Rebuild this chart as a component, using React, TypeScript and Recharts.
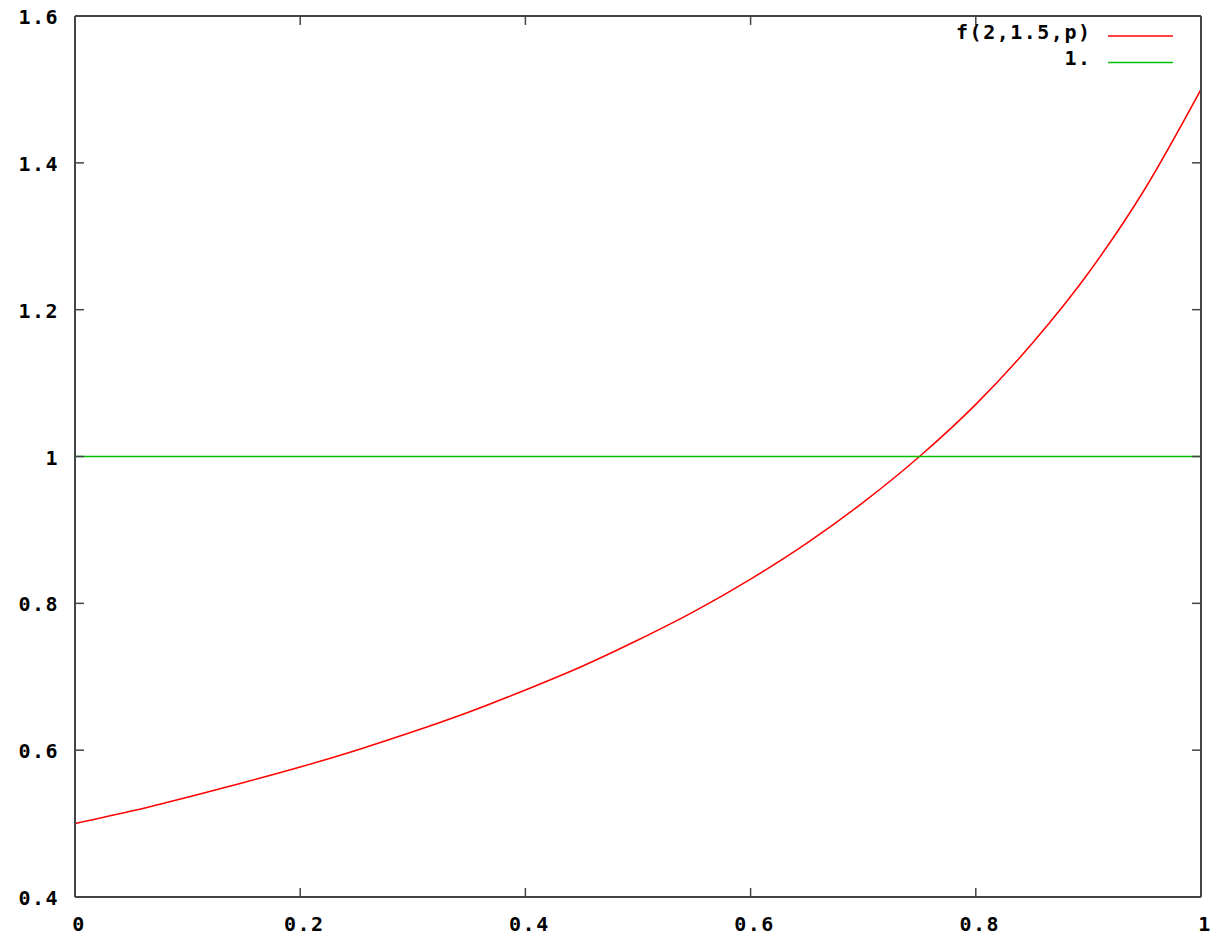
import React from 'react';
import { LineChart, Line, XAxis, YAxis, Legend } from 'recharts';

const pValues = [0, 0.05, 0.1, 0.15, 0.2, 0.25, 0.3, 0.35, 0.4, 0.45, 0.5, 0.55, 0.6, 0.65, 0.7, 0.75, 0.8, 0.85, 0.9, 0.95, 1];
const fValues = [0.5, 0.517, 0.536, 0.556, 0.577, 0.6, 0.625, 0.652, 0.682, 0.714, 0.75, 0.789, 0.833, 0.882, 0.9375, 1.0, 1.071, 1.154, 1.25, 1.364, 1.5];
const oneValues = pValues.map(() => 1);

const xTicks = [0, 0.2, 0.4, 0.6, 0.8, 1];
const yTicks = [0.4, 0.6, 0.8, 1, 1.2, 1.4, 1.6];

const legendLabels = ['f(2,1.5,p)', '1.'];
const legendColors = ['#ff0000', '#00c000'];

const data = pValues.map((p, i) => ({ p, f: fValues[i], one: oneValues[i] }));

const FONT = "'DejaVu Sans Mono', monospace";
const AX = '#444444';
const TICK_LEN = 9;

const fmt = (v: number) => String(Math.round(v * 10) / 10);

const textStyle = {
  fontFamily: FONT,
  fontSize: 20,
  fontWeight: 'bold' as const,
  letterSpacing: 1.5,
  fill: '#000',
};

const BottomTick = (props: any) => {
  const { x, y, payload } = props;
  return (
    <g>
      <line x1={x} y1={y} x2={x} y2={y - TICK_LEN} stroke={AX} strokeWidth={1.5} />
      <text x={x + 4} y={y + 34} textAnchor="middle" style={textStyle}>{fmt(payload.value)}</text>
    </g>
  );
};

const TopTick = (props: any) => {
  const { x, y } = props;
  return <line x1={x} y1={y} x2={x} y2={y + TICK_LEN} stroke={AX} strokeWidth={1.5} />;
};

const LeftTick = (props: any) => {
  const { x, y, payload } = props;
  return (
    <g>
      <line x1={x} y1={y} x2={x + TICK_LEN} y2={y} stroke={AX} strokeWidth={1.5} />
      <text x={x - 16} y={y + 8} textAnchor="end" style={textStyle}>{fmt(payload.value)}</text>
    </g>
  );
};

const RightTick = (props: any) => {
  const { x, y } = props;
  return <line x1={x} y1={y} x2={x - TICK_LEN} y2={y} stroke={AX} strokeWidth={1.5} />;
};

const LegendContent = () => (
  <svg width={260} height={60} style={{ display: 'block', overflow: 'visible' }}>
    {legendLabels.map((label, i) => (
      <g key={label}>
        <text x={141.5} y={23 + i * 26} textAnchor="end" style={textStyle}>{label}</text>
        <line x1={158} x2={223} y1={20 + i * 26.5} y2={20 + i * 26.5} stroke={legendColors[i]} strokeWidth={1.5} />
      </g>
    ))}
  </svg>
);

export default function App() {
  return (
    <div style={{ position: 'absolute', left: 0, top: 0, width: 1211, height: 935, background: '#fff' }}>
      <LineChart width={1211} height={935} data={data} margin={{ top: 15, right: 9, bottom: 0, left: 0 }}>
        <XAxis
          dataKey="p"
          type="number"
          domain={[0, 1]}
          ticks={xTicks}
          interval={0}
          height={38}
          tickSize={0}
          tickMargin={0}
          tickLine={false}
          axisLine={{ stroke: AX, strokeWidth: 2 }}
          tick={<BottomTick />}
          allowDataOverflow
        />
        <XAxis
          xAxisId="top"
          orientation="top"
          dataKey="p"
          type="number"
          domain={[0, 1]}
          ticks={xTicks}
          interval={0}
          height={1}
          tickSize={0}
          tickMargin={0}
          tickLine={false}
          axisLine={{ stroke: AX, strokeWidth: 2 }}
          tick={<TopTick />}
          allowDataOverflow
        />
        <YAxis
          type="number"
          domain={[0.4, 1.6]}
          ticks={yTicks}
          interval={0}
          width={75}
          tickSize={0}
          tickMargin={0}
          tickLine={false}
          axisLine={{ stroke: AX, strokeWidth: 2 }}
          tick={<LeftTick />}
          allowDataOverflow
        />
        <YAxis
          yAxisId="right"
          orientation="right"
          type="number"
          domain={[0.4, 1.6]}
          ticks={yTicks}
          interval={0}
          width={1}
          tickSize={0}
          tickMargin={0}
          tickLine={false}
          axisLine={{ stroke: AX, strokeWidth: 2 }}
          tick={<RightTick />}
          allowDataOverflow
        />
        <Line xAxisId="top" yAxisId="right" type="linear" dataKey="one" stroke="none" strokeWidth={0} dot={false} legendType="none" isAnimationActive={false} />
        <Line type="monotone" dataKey="f" stroke="#ff0000" strokeWidth={1.5} dot={false} isAnimationActive={false} />
        <Line type="linear" dataKey="one" stroke="#00c000" strokeWidth={1.5} dot={false} isAnimationActive={false} />
        <Legend
          layout="horizontal"
          verticalAlign="middle"
          align="center"
          content={<LegendContent />}
          wrapperStyle={{ position: 'absolute', left: 950, top: 16, width: 260, height: 60 }}
        />
      </LineChart>
    </div>
  );
}
